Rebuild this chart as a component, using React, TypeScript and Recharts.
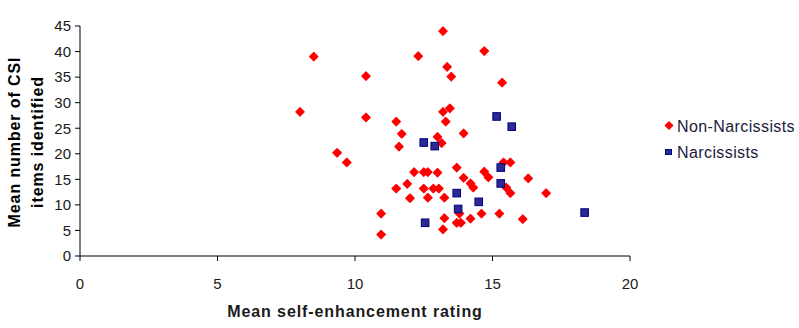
import { ScatterChart, Scatter, XAxis, YAxis, Label } from "recharts";

// Reference chart: self-enhancement vs CSI items identified
const CHART_WIDTH = 799;
const CHART_HEIGHT = 328;
const FONT = "'Liberation Sans', Arial, sans-serif";

const X_TICKS = [0, 5, 10, 15, 20];
const Y_TICKS = [0, 5, 10, 15, 20, 25, 30, 35, 40, 45];

const NON_NARCISSISTS_X = [
  13.2, 8.5, 12.3, 14.7, 13.35, 13.5, 10.4, 15.35, 8.0, 10.4,
  13.2, 13.45, 13.3, 11.5, 11.7, 13.95, 13.0, 13.15, 11.6, 9.35,
  9.7, 12.15, 12.5, 12.65, 13.0, 13.7, 13.95, 14.2, 14.3, 14.7,
  14.85, 15.4, 15.65, 16.3, 11.5, 11.9, 12.5, 12.85, 13.05, 12.0,
  12.65, 13.25, 15.5, 15.65, 16.95, 10.95, 10.95, 13.25, 13.2, 13.7,
  13.85, 13.8, 14.2, 14.6, 15.25, 16.1,
];
const NON_NARCISSISTS_Y = [
  44, 39, 39.1, 40.1, 37, 35.1, 35.2, 33.9, 28.2, 27.1,
  28.2, 28.9, 26.3, 26.3, 23.9, 24.0, 23.3, 22.1, 21.4, 20.2,
  18.3, 16.4, 16.4, 16.4, 16.3, 17.3, 15.3, 14.2, 13.4, 16.5,
  15.4, 18.3, 18.3, 15.2, 13.2, 14.1, 13.2, 13.2, 13.2, 11.3,
  11.4, 11.4, 13.4, 12.3, 12.3, 8.3, 4.2, 7.4, 5.2, 6.5,
  6.5, 8.3, 7.3, 8.3, 8.3, 7.2,
];

const NARCISSISTS_X = [15.15, 15.7, 12.5, 12.9, 15.3, 15.3, 13.7, 14.5, 13.75, 12.55, 18.35];
const NARCISSISTS_Y = [27.3, 25.3, 22.2, 21.5, 17.3, 14.2, 12.3, 10.6, 9.2, 6.5, 8.5];

const nonNarcissists = NON_NARCISSISTS_X.map((x, i) => ({ x, y: NON_NARCISSISTS_Y[i] }));
const narcissists = NARCISSISTS_X.map((x, i) => ({ x, y: NARCISSISTS_Y[i] }));

const COLORS = {
  red: "#ff0000",
  navy: "#2a2a92",
  navyStroke: "#000080",
  text: "#1a1a3a",
} as const;

// small Excel-like diamond marker
function Diamond({ cx, cy }: any) {
  const r = 4.2;
  return (
    <polygon
      points={`${cx},${cy - r} ${cx + r},${cy} ${cx},${cy + r} ${cx - r},${cy}`}
      fill={COLORS.red}
      stroke={COLORS.red}
      strokeWidth={1.2}
      strokeLinejoin="round"
    />
  );
}

function Square({ cx, cy }: any) {
  return (
    <rect
      x={cx - 3.8}
      y={cy - 3.8}
      width={7.6}
      height={7.6}
      fill={COLORS.navy}
      stroke={COLORS.navyStroke}
      strokeWidth={1}
    />
  );
}

function YTitle({ viewBox }: any) {
  const cy = viewBox.y + viewBox.height / 2 + 1;
  return (
    <g fontFamily={FONT} fontWeight="bold" fontSize={16} letterSpacing={0.9} fill="#000">
      <text x={20} y={cy} transform={`rotate(-90 20 ${cy})`} textAnchor="middle">
        Mean number of CSI
      </text>
      <text x={43} y={cy} transform={`rotate(-90 43 ${cy})`} textAnchor="middle">
        items identified
      </text>
    </g>
  );
}

function XTitle({ viewBox }: any) {
  const cx = viewBox.x + viewBox.width / 2;
  return (
    <text
      x={cx}
      y={317}
      textAnchor="middle"
      fontFamily={FONT}
      fontWeight="bold"
      fontSize={16}
      letterSpacing={0.9}
      fill="#1a1a1a"
    >
      Mean self-enhancement rating
    </text>
  );
}

function LegendBox() {
  return (
    <svg
      width={135}
      height={60}
      style={{ position: "absolute", left: 664, top: 114, fontFamily: FONT }}
    >
      <polygon points="5,8 8.5,11.5 5,15 1.5,11.5" fill={COLORS.red} stroke={COLORS.red} strokeWidth={1.5} />
      <text x={13} y={18} fontSize={16} letterSpacing={0.4} fill={COLORS.text}>Non-Narcissists</text>
      <rect x={1.5} y={35.5} width={6} height={5} fill={COLORS.navy} stroke={COLORS.navyStroke} />
      <text x={13} y={44} fontSize={16} letterSpacing={0.4} fill={COLORS.text}>Narcissists</text>
    </svg>
  );
}

export default function App() {
  return (
    <div style={{ position: "absolute", left: 0, top: 0, width: CHART_WIDTH, height: CHART_HEIGHT, background: "#fff" }}>
      <ScatterChart
        width={CHART_WIDTH}
        height={CHART_HEIGHT}
        margin={{ top: 26, right: 169, bottom: 0, left: 0 }}
      >
        <XAxis
          type="number"
          dataKey="x"
          domain={[0, 20]}
          ticks={X_TICKS}
          interval={0}
          height={72}
          tickSize={5}
          tickMargin={17}
          stroke="#000"
          tick={{ fill: "#1a1a1a", fontSize: 15, fontFamily: FONT }}
          tickLine={{ stroke: "#000" }}
        >
          <Label content={<XTitle />} />
        </XAxis>
        <YAxis
          type="number"
          dataKey="y"
          domain={[0, 45]}
          ticks={Y_TICKS}
          interval={0}
          width={80}
          tickSize={5}
          tickMargin={4}
          stroke="#000"
          tick={{ fill: "#1a1a1a", fontSize: 15, fontFamily: FONT }}
          tickLine={{ stroke: "#000" }}
        >
          <Label content={<YTitle />} />
        </YAxis>
        <Scatter
          name="Non-Narcissists"
          data={nonNarcissists}
          shape={<Diamond />}
          isAnimationActive={false}
        />
        <Scatter
          name="Narcissists"
          data={narcissists}
          shape={<Square />}
          isAnimationActive={false}
        />
      </ScatterChart>
      <LegendBox />
    </div>
  );
}
